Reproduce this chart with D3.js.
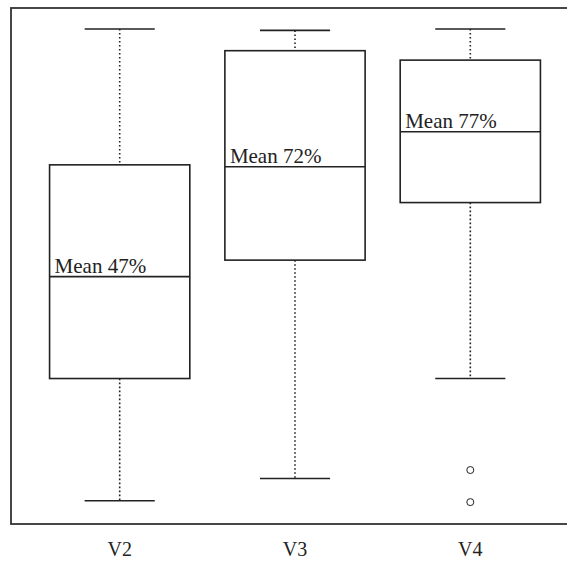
<!DOCTYPE html>
<html>
<head>
<meta charset="utf-8">
<script src="https://cdn.jsdelivr.net/npm/d3@7"></script>
<style>
  body { margin: 0; background: #fff; overflow: hidden; }
  svg { display: block; }
  svg text { font-family: "Liberation Serif", "DejaVu Serif", serif; fill: #222; }
</style>
</head>
<body>
<div id="chart"></div>
<script>
// categories and box stats (percent)
const categories = ["V2", "V3", "V4"];
const whiskerLow  = [0, 4.7, 25.9];
const boxLow      = [25.9, 51.0, 63.2];
const medians     = [47.5, 70.8, 78.2];
const boxHigh     = [71.2, 95.4, 93.4];
const whiskerHigh = [100, 99.7, 100];
const outliers    = [[], [], [6.5, -0.3]];
const meanLabels  = ["Mean 47%", "Mean 72%", "Mean 77%"];

const width = 567, height = 562;
const frame = { left: 11, top: 8, right: 579, bottom: 524 };

const svg = d3.select("#chart").append("svg")
    .attr("width", width)
    .attr("height", height);

// R style: xlim c(0.5, n+0.5) extended by 4%
const xScale = d3.scaleLinear()
    .domain([0.38, 3.62])
    .range([frame.left, frame.right]);

const yScale = d3.scaleLinear()
    .domain([-4.94, 104.45])
    .range([frame.bottom, frame.top]);

const boxW = 0.8, capW = 0.4;
const lineColor = "#222";

const data = categories.map((c, i) => ({
    name: c, pos: i + 1,
    wl: whiskerLow[i], bl: boxLow[i], med: medians[i],
    bh: boxHigh[i], wh: whiskerHigh[i],
    out: outliers[i], label: meanLabels[i]
}));

const g = svg.selectAll(".box").data(data).enter()
    .append("g").attr("class", "box");

// whiskers (dotted)
g.append("line")
    .attr("x1", d => xScale(d.pos)).attr("x2", d => xScale(d.pos))
    .attr("y1", d => yScale(d.wh)).attr("y2", d => yScale(d.bh))
    .attr("stroke", lineColor).attr("stroke-width", 1.6)
    .attr("stroke-dasharray", "1.6,2.4");
g.append("line")
    .attr("x1", d => xScale(d.pos)).attr("x2", d => xScale(d.pos))
    .attr("y1", d => yScale(d.bl)).attr("y2", d => yScale(d.wl))
    .attr("stroke", lineColor).attr("stroke-width", 1.6)
    .attr("stroke-dasharray", "1.6,2.4");

// caps
[d => d.wh, d => d.wl].forEach(f => {
    g.append("line")
        .attr("x1", d => xScale(d.pos - capW / 2))
        .attr("x2", d => xScale(d.pos + capW / 2))
        .attr("y1", d => yScale(f(d))).attr("y2", d => yScale(f(d)))
        .attr("stroke", lineColor).attr("stroke-width", 1.6);
});

// box
g.append("rect")
    .attr("x", d => xScale(d.pos - boxW / 2))
    .attr("width", d => xScale(d.pos + boxW / 2) - xScale(d.pos - boxW / 2))
    .attr("y", d => yScale(d.bh))
    .attr("height", d => yScale(d.bl) - yScale(d.bh))
    .attr("fill", "none")
    .attr("stroke", lineColor).attr("stroke-width", 1.6);

// median
g.append("line")
    .attr("x1", d => xScale(d.pos - boxW / 2))
    .attr("x2", d => xScale(d.pos + boxW / 2))
    .attr("y1", d => yScale(d.med)).attr("y2", d => yScale(d.med))
    .attr("stroke", lineColor).attr("stroke-width", 1.6);

// mean labels
g.append("text")
    .attr("x", d => xScale(d.pos - boxW / 2) + 5)
    .attr("y", d => yScale(d.med) - 4)
    .style("font-size", "21px")
    .text(d => d.label);

// outliers
g.selectAll("circle").data(d => d.out.map(v => ({ pos: d.pos, v: v }))).enter()
    .append("circle")
    .attr("cx", d => xScale(d.pos))
    .attr("cy", d => yScale(d.v))
    .attr("r", 3.5)
    .attr("fill", "none")
    .attr("stroke", lineColor).attr("stroke-width", 1);

// frame
svg.append("rect")
    .attr("x", frame.left).attr("y", frame.top)
    .attr("width", frame.right - frame.left)
    .attr("height", frame.bottom - frame.top)
    .attr("fill", "none")
    .attr("stroke", "#333").attr("stroke-width", 1.8);

// category axis labels
svg.selectAll(".cat").data(data).enter()
    .append("text")
    .attr("class", "cat")
    .attr("x", d => xScale(d.pos))
    .attr("y", 556)
    .attr("text-anchor", "middle")
    .style("font-size", "20px")
    .text(d => d.name);
</script>
</body>
</html>
